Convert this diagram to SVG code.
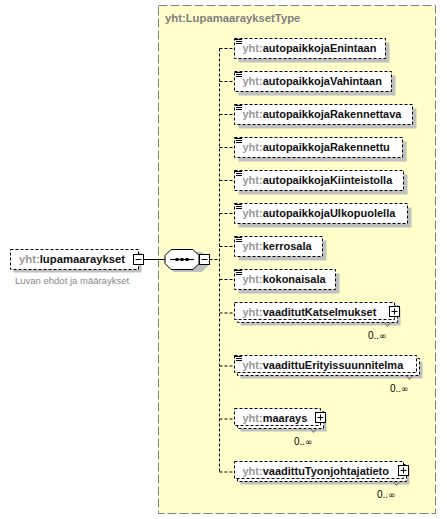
<svg xmlns="http://www.w3.org/2000/svg" width="447" height="519" viewBox="0 0 447 519">
<style>
text{font-family:"Liberation Sans",Arial,sans-serif}
.el{font-size:11px;font-weight:bold;fill:#111}
.top{font-size:11.3px}
.pre{fill:#999}
.box{fill:#fff;stroke:#000;stroke-width:1;stroke-dasharray:3,2}
.sh{fill:#c0c0c0}
.btn{fill:#fff;stroke:#000;stroke-width:1}
.con{fill:none;stroke:#000;stroke-width:1;stroke-dasharray:3,2}
.occ{font-size:10px;fill:#000;text-anchor:end}
.inf{font-family:"DejaVu Sans",sans-serif;font-size:9px}
.ico{stroke:#000;stroke-width:1}
.notch{fill:none;stroke:#666;stroke-width:1}
</style>
<rect x="158.5" y="5.5" width="277" height="508" fill="#ffffcc" stroke="#808080" stroke-dasharray="9,3"/>
<text x="165" y="22" style="font-size:11.3px;font-weight:bold;fill:#808080">yht:LupamaarayksetType</text>

<g id="connectors">
<line x1="143.5" y1="259.5" x2="165" y2="259.5" stroke="#000"/>
<path class="con" d="M209.5,259.5H219.5M219.5,48.5V472.5
M219.5,48.5H234.5M219.5,81.5H234.5M219.5,114.5H234.5M219.5,147.5H234.5M219.5,180.5H234.5M219.5,213.5H234.5M219.5,246.5H234.5M219.5,279.5H234.5
M219.5,313H234.5M219.5,366H234.5M219.5,419H234.5M219.5,472H234.5"/>
</g>

<g id="lupamaaraykset">
<rect class="sh" x="13.5" y="252.5" width="128" height="20"/>
<rect class="box" x="10.5" y="249.5" width="128" height="20"/>
<text class="el top" x="19" y="263"><tspan class="pre">yht:</tspan>lupamaaraykset</text>
<rect class="btn" x="133.5" y="254.5" width="10" height="10"/>
<line x1="135.5" y1="259.5" x2="141.5" y2="259.5" stroke="#000"/>
<text x="15" y="284" style="font-size:9.5px;fill:#888">Luvan ehdot ja määraykset</text>
</g>

<g id="sequence">
<polygon class="sh" points="174,252 202,252 208,258 208,266 202,272 174,272 168,266 168,258"/>
<polygon points="171,249.5 193,249.5 199,255.5 199,263.5 193,269.5 171,269.5 165,263.5 165,255.5" fill="#fff" stroke="#000"/>
<line x1="170" y1="259.5" x2="194" y2="259.5" stroke="#000"/>
<rect x="175.5" y="258" width="3" height="3" fill="#000"/>
<rect x="180.5" y="258" width="3" height="3" fill="#000"/>
<rect x="185.5" y="258" width="3" height="3" fill="#000"/>
<rect class="btn" x="199.5" y="254.5" width="10" height="10"/>
<line x1="201.5" y1="259.5" x2="207.5" y2="259.5" stroke="#000"/>
</g>

<g id="autopaikkojaEnintaan">
<rect class="sh" x="238.5" y="42.5" width="151" height="20"/>
<rect class="box" x="234.5" y="38.5" width="151" height="20"/>
<path class="ico" d="M235,39.5H242M236,41.5H242M236,43.5H242"/>
<text class="el" x="242.5" y="52"><tspan class="pre">yht:</tspan>autopaikkojaEnintaan</text>
</g>
<g id="autopaikkojaVahintaan">
<rect class="sh" x="238.5" y="75.5" width="157" height="20"/>
<rect class="box" x="234.5" y="71.5" width="157" height="20"/>
<path class="ico" d="M235,72.5H242M236,74.5H242M236,76.5H242"/>
<text class="el" x="242.5" y="85"><tspan class="pre">yht:</tspan>autopaikkojaVahintaan</text>
</g>
<g id="autopaikkojaRakennettava">
<rect class="sh" x="238.5" y="108.5" width="178" height="20"/>
<rect class="box" x="234.5" y="104.5" width="178" height="20"/>
<path class="ico" d="M235,105.5H242M236,107.5H242M236,109.5H242"/>
<text class="el" x="242.5" y="118"><tspan class="pre">yht:</tspan>autopaikkojaRakennettava</text>
</g>
<g id="autopaikkojaRakennettu">
<rect class="sh" x="238.5" y="141.5" width="168" height="20"/>
<rect class="box" x="234.5" y="137.5" width="168" height="20"/>
<path class="ico" d="M235,138.5H242M236,140.5H242M236,142.5H242"/>
<text class="el" x="242.5" y="151"><tspan class="pre">yht:</tspan>autopaikkojaRakennettu</text>
</g>
<g id="autopaikkojaKiinteistolla">
<rect class="sh" x="238.5" y="174.5" width="169" height="20"/>
<rect class="box" x="234.5" y="170.5" width="169" height="20"/>
<path class="ico" d="M235,171.5H242M236,173.5H242M236,175.5H242"/>
<text class="el" x="242.5" y="184"><tspan class="pre">yht:</tspan>autopaikkojaKiinteistolla</text>
</g>
<g id="autopaikkojaUlkopuolella">
<rect class="sh" x="238.5" y="207.5" width="173" height="20"/>
<rect class="box" x="234.5" y="203.5" width="173" height="20"/>
<path class="ico" d="M235,204.5H242M236,206.5H242M236,208.5H242"/>
<text class="el" x="242.5" y="217"><tspan class="pre">yht:</tspan>autopaikkojaUlkopuolella</text>
</g>
<g id="kerrosala">
<rect class="sh" x="238.5" y="240.5" width="88" height="20"/>
<rect class="box" x="234.5" y="236.5" width="88" height="20"/>
<path class="ico" d="M235,237.5H242M236,239.5H242M236,241.5H242"/>
<text class="el" x="242.5" y="250"><tspan class="pre">yht:</tspan>kerrosala</text>
</g>
<g id="kokonaisala">
<rect class="sh" x="238.5" y="273.5" width="101" height="20"/>
<rect class="box" x="234.5" y="269.5" width="101" height="20"/>
<path class="ico" d="M235,270.5H242M236,272.5H242M236,274.5H242"/>
<text class="el" x="242.5" y="283"><tspan class="pre">yht:</tspan>kokonaisala</text>
</g>

<g id="vaaditutKatselmukset">
<rect class="sh" x="240.5" y="308.5" width="160" height="17"/>
<rect class="box" x="237.5" y="305.5" width="160" height="17"/>
<rect class="box" x="234.5" y="302.5" width="160" height="17"/>
<text class="el" x="242.5" y="316"><tspan class="pre">yht:</tspan>vaaditutKatselmukset</text>
<rect class="btn" x="389.5" y="306.5" width="10" height="10"/>
<path d="M391.5,311.5H397.5M394.5,308.5V314.5" stroke="#000"/>
<path class="notch" d="M384.5,322.5L387.5,326.5L390.5,322.5"/>
<text class="occ" x="386.5" y="338.5">0..<tspan class="inf">∞</tspan></text>
</g>
<g id="vaadittuErityissuunnitelma">
<rect class="sh" x="240.5" y="361.5" width="182" height="17"/>
<rect class="box" x="237.5" y="358.5" width="182" height="17"/>
<rect class="box" x="234.5" y="355.5" width="182" height="17"/>
<path class="ico" d="M235,356.5H242M236,358.5H242M236,360.5H242"/>
<text class="el" x="242.5" y="369"><tspan class="pre">yht:</tspan>vaadittuErityissuunnitelma</text>
<path class="notch" d="M406.5,375.5L409.5,379.5L412.5,375.5"/>
<text class="occ" x="408.5" y="391.5">0..<tspan class="inf">∞</tspan></text>
</g>
<g id="maarays">
<rect class="sh" x="240.5" y="414.5" width="86" height="17"/>
<rect class="box" x="237.5" y="411.5" width="86" height="17"/>
<rect class="box" x="234.5" y="408.5" width="86" height="17"/>
<text class="el" x="242.5" y="422"><tspan class="pre">yht:</tspan>maarays</text>
<rect class="btn" x="315.5" y="412.5" width="10" height="10"/>
<path d="M317.5,417.5H323.5M320.5,414.5V420.5" stroke="#000"/>
<path class="notch" d="M310.5,428.5L313.5,432.5L316.5,428.5"/>
<text class="occ" x="312.5" y="444.5">0..<tspan class="inf">∞</tspan></text>
</g>
<g id="vaadittuTyonjohtajatieto">
<rect class="sh" x="240.5" y="467.5" width="169" height="17"/>
<rect class="box" x="237.5" y="464.5" width="169" height="17"/>
<rect class="box" x="234.5" y="461.5" width="169" height="17"/>
<text class="el" x="242.5" y="475"><tspan class="pre">yht:</tspan>vaadittuTyonjohtajatieto</text>
<rect class="btn" x="398.5" y="465.5" width="10" height="10"/>
<path d="M400.5,470.5H406.5M403.5,467.5V473.5" stroke="#000"/>
<path class="notch" d="M393.5,481.5L396.5,485.5L399.5,481.5"/>
<text class="occ" x="395.5" y="497.5">0..<tspan class="inf">∞</tspan></text>
</g>
</svg>
